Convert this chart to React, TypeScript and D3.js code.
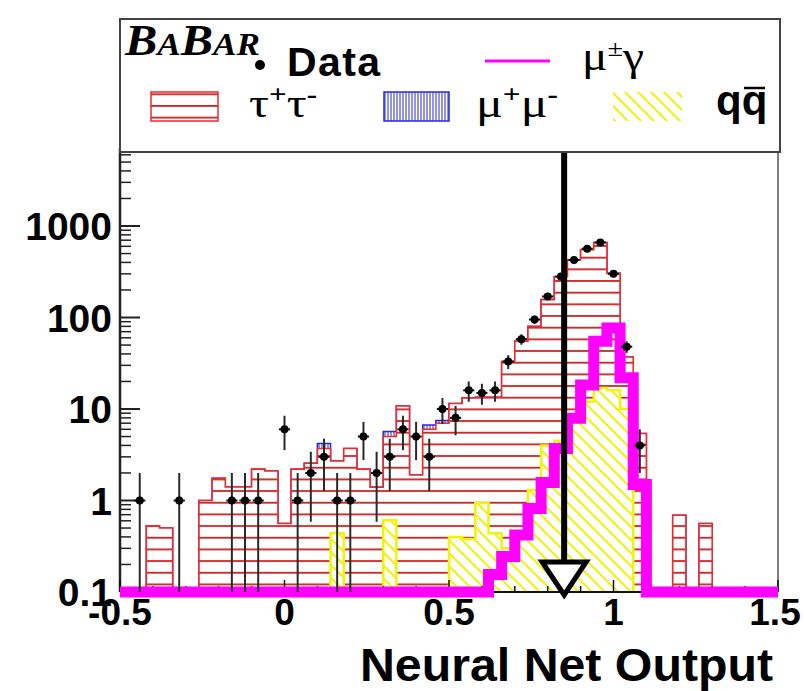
import React from 'react';
import * as d3 from 'd3';

// Histogram binning: 50 bins on the neural-net output axis
const binLow = -0.5;
const binHigh = 1.5;
const nBins = 50;

// Background and signal expectations per bin (events)
const tauTau = [
  0, 0, 0.53, 0.5, 0, 0, 1.0, 1.75, 1.41, 1.41,
  2.2, 2.1, 0.56, 2.2, 2.55, 3.7, 2.26, 3.7, 2.2, 1.4,
  4.4, 10.8, 1.9, 6.0, 7.0, 11.1, 12.9, 12.5, 13.0, 32.7,
  54.5, 78.7, 153, 275, 417, 538, 643, 288, 27, 5.4,
  0, 0, 0.69, 0, 0.56, 0, 0, 0, 0, 0,
];
const muMu = [
  0, 0, 0, 0, 0, 0, 0, 0, 0, 0,
  0, 0, 0, 0, 0, 0.5, 0, 0, 0, 0,
  0.65, 0, 0, 0.7, 0.5, 0, 0, 0, 0, 0,
  0, 0, 0, 0, 0, 0, 0, 0, 0, 0,
  0, 0, 0, 0, 0, 0, 0, 0, 0, 0,
];
const qqbar = [
  0, 0, 0, 0, 0, 0, 0, 0, 0, 0,
  0, 0, 0, 0, 0, 0, 0.44, 0, 0, 0,
  0.61, 0, 0, 0, 0, 0.4, 0.38, 0.94, 0.44, 0.3,
  0.45, 1.3, 4.0, 4.5, 8, 12, 17, 16, 10, 0,
  0, 0, 0, 0, 0, 0, 0, 0, 0, 0,
];
const muGamma = [
  0, 0, 0, 0, 0, 0, 0, 0, 0, 0,
  0, 0, 0, 0, 0, 0, 0, 0, 0, 0,
  0, 0, 0, 0, 0, 0, 0, 0, 0.155, 0.245,
  0.42, 0.82, 1.57, 3.7, 7.9, 18.3, 55, 77, 22, 1.5,
  0, 0, 0, 0, 0, 0, 0, 0, 0, 0,
];
const dataCounts = [
  0, 1, 0, 0, 1, 0, 0, 0, 1, 1,
  1, 0, 6, 1, 2, 3, 1, 1, 5, 2,
  3, 6, 5, 3, 10, 8, 16, 15, 16, 33,
  58, 95, 170, 280, 425, 565, 660, 300, 48, 4,
  0, 0, 0, 0, 0, 0, 0, 0, 0, 0,
];

const yTickValues = [0.1, 1, 10, 100, 1000];
const yTickLabels = ['0.1', '1', '10', '100', '1000'];
const xTickValues = [-0.5, 0, 0.5, 1, 1.5];
const xTickLabels = ['-0.5', '0', '0.5', '1', '1.5'];
const cutValue = 0.85;

const W = 804;
const H = 691;
const plot = { left: 120, right: 778, top: 152, bottom: 592 };
const yFloor = 0.1;
const yCeil = 6440;

const x = d3.scaleLinear().domain([binLow, binHigh]).range([plot.left, plot.right]);
const y = d3.scaleLog().domain([yFloor, yCeil]).range([plot.bottom, plot.top]).clamp(true);

const binWidth = (binHigh - binLow) / nBins;
const edges = d3.range(nBins + 1).map((i) => binLow + i * binWidth);
const centers = d3.range(nBins).map((i) => binLow + (i + 0.5) * binWidth);

type Pt = [number, number];
const stepPoints = (vals: number[]): Pt[] =>
  edges.map((e, i) => [e, vals[Math.min(i, nBins - 1)]] as Pt);

const stepArea = d3
  .area<Pt>()
  .x((d) => x(d[0]))
  .y0(y(yFloor))
  .y1((d) => y(Math.max(d[1], yFloor)))
  .curve(d3.curveStepAfter);

const stepLine = d3
  .line<Pt>()
  .x((d) => x(d[0]))
  .y((d) => y(Math.max(d[1], yFloor)))
  .curve(d3.curveStepAfter);

// Stack: qq at the bottom, then tau pairs, then mu pairs on top
const qqCum = qqbar;
const tauCum = qqbar.map((v, i) => v + tauTau[i]);
const totCum = tauCum.map((v, i) => v + muMu[i]);

const RED = '#ee2a2a';
const RED_HATCH = '#c82222';
const BLUE = '#2a2ad0';
const YELLOW = '#f2f20a';
const MAGENTA = '#ff00ff';

const sans = '"Liberation Sans", Arial, Helvetica, sans-serif';
const serif = '"Liberation Serif", "Times New Roman", serif';

function minorLogTicks(): number[] {
  const out: number[] = [];
  for (let dec = 0.1; dec < yCeil; dec *= 10) {
    for (let k = 2; k <= 9; k++) {
      const v = dec * k;
      if (v < yCeil) out.push(v);
    }
  }
  return out;
}

export default function App() {
  const minorY = minorLogTicks();
  const xTicksMinor = d3.range(-0.5, 1.5001, 0.1).map((v) => Math.round(v * 10) / 10);
  const cutX = x(cutValue);

  return (
    <svg
      width={W}
      height={H}
      viewBox={`0 0 ${W} ${H}`}
      style={{ position: 'absolute', left: 0, top: 0, background: '#fff' }}
    >
      <defs>
        <pattern id="hatchRed" patternUnits="userSpaceOnUse" width={12} height={11.67}>
          <line x1={0} x2={12} y1={0.9} y2={0.9} stroke={RED_HATCH} strokeWidth={1.8} />
        </pattern>
        <pattern id="hatchBlue" patternUnits="userSpaceOnUse" width={3} height={10}>
          <line x1={1} x2={1} y1={0} y2={10} stroke={BLUE} strokeWidth={1} />
        </pattern>
        <pattern id="hatchYellow" patternUnits="userSpaceOnUse" width={13} height={13}>
          <path d="M0,0 L13,13 M-6.5,6.5 L6.5,19.5 M6.5,-6.5 L19.5,6.5" stroke={YELLOW} strokeWidth={2} />
        </pattern>
        <clipPath id="frameClip">
          <rect x={plot.left} y={plot.top} width={plot.right - plot.left} height={plot.bottom - plot.top} />
        </clipPath>
      </defs>

      <rect x={0} y={0} width={W} height={H} fill="#fff" />

      {/* stacked backgrounds */}
      <g clipPath="url(#frameClip)">
        <path d={stepArea(stepPoints(totCum)) || ''} fill="#fff" />
        <path d={stepArea(stepPoints(totCum)) || ''} fill="url(#hatchBlue)" />
        <path d={stepLine(stepPoints(totCum)) || ''} fill="none" stroke={BLUE} strokeWidth={1.5} />

        <path d={stepArea(stepPoints(tauCum)) || ''} fill="#fff" />
        <path d={stepArea(stepPoints(tauCum)) || ''} fill="url(#hatchRed)" />
        <path d={stepLine(stepPoints(tauCum)) || ''} fill="none" stroke={RED} strokeWidth={1.6} />

        <path d={stepArea(stepPoints(qqCum)) || ''} fill="#fff" />
        <path d={stepArea(stepPoints(qqCum)) || ''} fill="url(#hatchYellow)" />
        <path d={stepLine(stepPoints(qqCum)) || ''} fill="none" stroke={YELLOW} strokeWidth={2.5} />
      </g>

      {/* frame and axes */}
      <g>
        <line x1={plot.right} x2={plot.right} y1={plot.top} y2={plot.bottom} stroke="#555" strokeWidth={1.5} />
        <line x1={plot.left} x2={plot.left} y1={plot.top - 4} y2={plot.bottom} stroke="#222" strokeWidth={2.5} />
        <line x1={plot.left} x2={plot.right} y1={plot.bottom} y2={plot.bottom} stroke="#111" strokeWidth={2} />
        {yTickValues.map((v) => (
          <line key={`ym${v}`} x1={plot.left} x2={plot.left + 20} y1={y(v)} y2={y(v)} stroke="#222" strokeWidth={2} />
        ))}
        {minorY.map((v) => (
          <line key={`yn${v}`} x1={plot.left} x2={plot.left + 11} y1={y(v)} y2={y(v)} stroke="#222" strokeWidth={1.5} />
        ))}
        {xTicksMinor.map((v) => {
          const major = Math.abs(v * 2 - Math.round(v * 2)) < 1e-6;
          return (
            <line
              key={`xt${v}`}
              x1={x(v)}
              x2={x(v)}
              y1={plot.bottom}
              y2={plot.bottom - (major ? 12 : 6)}
              stroke="#111"
              strokeWidth={1.5}
            />
          );
        })}
        {yTickValues.map((v, i) => (
          <text
            key={`yl${v}`}
            x={112}
            y={y(v) + 14}
            textAnchor="end"
            fontFamily={sans}
            fontWeight="bold"
            fontSize={39}
            fill="#000"
          >
            {yTickLabels[i]}
          </text>
        ))}
        {xTickValues.map((v, i) => (
          <text
            key={`xl${v}`}
            x={x(v) - (v === 1.5 ? 3 : 0)}
            y={625}
            textAnchor="middle"
            fontFamily={sans}
            fontWeight="bold"
            fontSize={37}
            fill="#000"
          >
            {xTickLabels[i]}
          </text>
        ))}
        <text
          x={773}
          y={681}
          textAnchor="end"
          fontFamily={sans}
          fontWeight="bold"
          fontSize={46}
          textLength={413}
          lengthAdjust="spacingAndGlyphs"
          fill="#000"
        >
          Neural Net Output
        </text>
      </g>

      {/* signal expectation */}
      <path
        d={stepLine(stepPoints(muGamma)) || ''}
        fill="none"
        stroke={MAGENTA}
        strokeWidth={11}
        strokeLinejoin="miter"
        strokeLinecap="butt"
      />

      {/* data with Poisson errors */}
      <g>
        {dataCounts.map((n, i) => {
          if (n <= 0) return null;
          const cx = x(centers[i]);
          const err = Math.sqrt(n);
          const lo = Math.max(n - err, yFloor);
          return (
            <g key={`d${i}`}>
              <line x1={cx} x2={cx} y1={y(lo)} y2={y(n + err)} stroke="#2a2a2a" strokeWidth={2} />
              <line x1={x(edges[i]) + 1} x2={x(edges[i + 1]) - 1} y1={y(n)} y2={y(n)} stroke="#111" strokeWidth={2} />
              <circle cx={cx} cy={y(n)} r={4} fill="#000" />
            </g>
          );
        })}
      </g>

      {/* selection cut */}
      <line x1={cutX} x2={cutX} y1={plot.top} y2={562} stroke="#000" strokeWidth={6} />
      <path
        d={`M${cutX - 22},${562} L${cutX + 22},${562} L${cutX},${595} Z`}
        fill="#fff"
        stroke="#000"
        strokeWidth={5}
        strokeLinejoin="miter"
      />

      {/* legend */}
      <g>
        <rect x={120} y={19} width={660} height={133} fill="#fff" stroke="#444" strokeWidth={2} />
        <text
          x={125}
          y={55}
          fontFamily={serif}
          fontStyle="italic"
          fontWeight="bold"
          fill="#000"
          textLength={135}
          lengthAdjust="spacingAndGlyphs"
        >
          <tspan fontSize={44}>B</tspan>
          <tspan fontSize={32}>A</tspan>
          <tspan fontSize={44}>B</tspan>
          <tspan fontSize={32}>AR</tspan>
        </text>
        <circle cx={260} cy={65} r={5} fill="#000" />
        <text x={287} y={76} fontFamily={sans} fontWeight="bold" fontSize={41} fill="#000" textLength={93}>
          Data
        </text>
        <line x1={485} x2={550} y1={61} y2={61} stroke={MAGENTA} strokeWidth={3} />
        <text x={582} y={70} fontFamily={serif} fontSize={40} fill="#000" textLength={62} lengthAdjust="spacingAndGlyphs">
          <tspan>μ</tspan>
          <tspan fontSize={24} dy={-14}>±</tspan>
          <tspan dy={14}>γ</tspan>
        </text>

        <rect x={151} y={92} width={67} height={29} fill="#fff" />
        <rect x={151} y={92} width={67} height={29} fill="url(#hatchRed)" stroke={RED} strokeWidth={1.5} />
        <text x={249} y={117} fontFamily={serif} fontSize={40} fill="#000" textLength={68} lengthAdjust="spacingAndGlyphs">
          <tspan>τ</tspan>
          <tspan fontSize={25} fontWeight="bold" dy={-14}>+</tspan>
          <tspan dy={14}>τ</tspan>
          <tspan fontSize={25} fontWeight="bold" dy={-14}>-</tspan>
        </text>

        <rect x={384} y={92} width={65} height={29} fill="#fff" />
        <rect x={384} y={92} width={65} height={29} fill="url(#hatchBlue)" stroke={BLUE} strokeWidth={1.5} />
        <text x={476} y={117} fontFamily={serif} fontSize={40} fill="#000" textLength={82} lengthAdjust="spacingAndGlyphs">
          <tspan>μ</tspan>
          <tspan fontSize={25} fontWeight="bold" dy={-14}>+</tspan>
          <tspan dy={14}>μ</tspan>
          <tspan fontSize={25} fontWeight="bold" dy={-14}>-</tspan>
        </text>

        <rect x={613} y={92} width={69} height={29} fill="url(#hatchYellow)" />
        <text x={716} y={115} fontFamily={sans} fontWeight="bold" fontSize={42} fill="#000">
          qq
        </text>
        <line x1={744} x2={765} y1={88} y2={88} stroke="#000" strokeWidth={2.5} />
      </g>
    </svg>
  );
}
